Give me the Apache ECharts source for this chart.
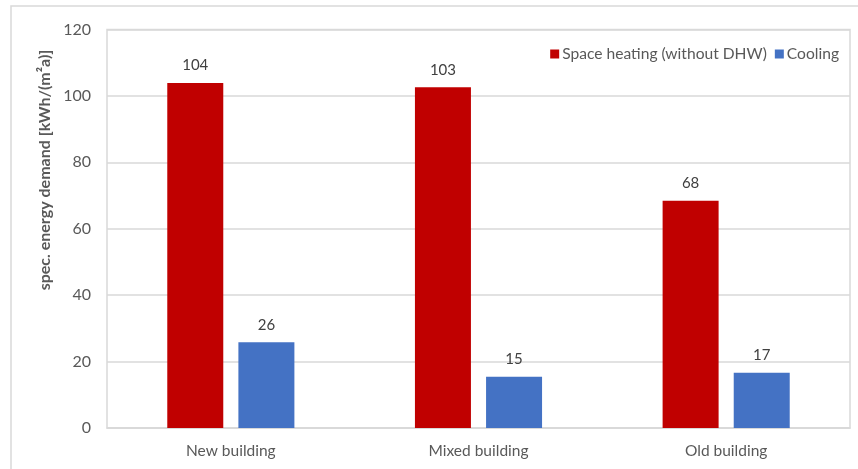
<!DOCTYPE html>
<html>
<head>
<meta charset="utf-8">
<script src="https://cdn.jsdelivr.net/npm/echarts@6/dist/echarts.min.js"></script>
<style>html,body{margin:0;padding:0;background:#fff;}#c{width:858px;height:469px;}</style>
</head>
<body>
<div id="c"></div>
<script>
const categories = ['New building', 'Mixed building', 'Old building'];
const heating = [103.9, 102.6, 68.4];
const cooling = [25.8, 15.4, 16.6];
const yTicks = [0, 20, 40, 60, 80, 100, 120];
const seriesNames = ['Space heating (without DHW)', 'Cooling'];

const font = 'Lato, "Open Sans", sans-serif';
const chart = echarts.init(document.getElementById('c'));
chart.setOption({
  animation: false,
  textStyle: { fontFamily: font },
  graphic: [
    { type: 'rect', shape: { x: 11, y: 6, width: 900, height: 500 }, style: { fill: 'none', stroke: '#d9d9d9', lineWidth: 1.5 }, z: -1 },
    { type: 'text', x: 45, y: 170, rotation: Math.PI / 2,
      style: { text: 'spec. energy demand [kWh/(m²a)]', fill: '#595959', font: 'bold 16px ' + font, align: 'center', verticalAlign: 'middle' } }
  ],
  legend: {
    top: 41, right: 14, itemWidth: 9, itemHeight: 9, itemGap: 8,
    icon: 'rect',
    textStyle: { color: '#595959', fontSize: 15.6, fontFamily: font, padding: [0, 0, 0, -2] },
    data: seriesNames
  },
  grid: { left: 107, right: 8, top: 29.5, bottom: 41, show: true, borderColor: '#d9d9d9', borderWidth: 1.5 },
  xAxis: {
    type: 'category', data: categories,
    axisLine: { lineStyle: { color: '#d9d9d9', width: 1.5 } },
    axisTick: { show: false },
    axisLabel: { color: '#595959', fontSize: 15.5, margin: 15, fontFamily: font }
  },
  yAxis: {
    type: 'value', min: 0, max: 120, interval: 20,
    axisLine: { show: false }, axisTick: { show: false },
    splitLine: { lineStyle: { color: '#d9d9d9', width: 1.5 } },
    axisLabel: { color: '#595959', fontSize: 16, margin: 16, fontFamily: font,
      formatter: v => yTicks.includes(v) ? String(v) : '' }
  },
  series: [
    { name: seriesNames[0], type: 'bar', data: heating, barWidth: 56, barGap: '27%',
      itemStyle: { color: '#c00000' },
      label: { show: true, position: 'top', distance: 10, color: '#404040', fontSize: 15, fontFamily: font, formatter: p => Math.round(p.value) } },
    { name: seriesNames[1], type: 'bar', data: cooling, barWidth: 56,
      itemStyle: { color: '#4472c4' },
      label: { show: true, position: 'top', distance: 10, color: '#404040', fontSize: 15, fontFamily: font, formatter: p => Math.round(p.value) } }
  ]
});
</script>
</body>
</html>
